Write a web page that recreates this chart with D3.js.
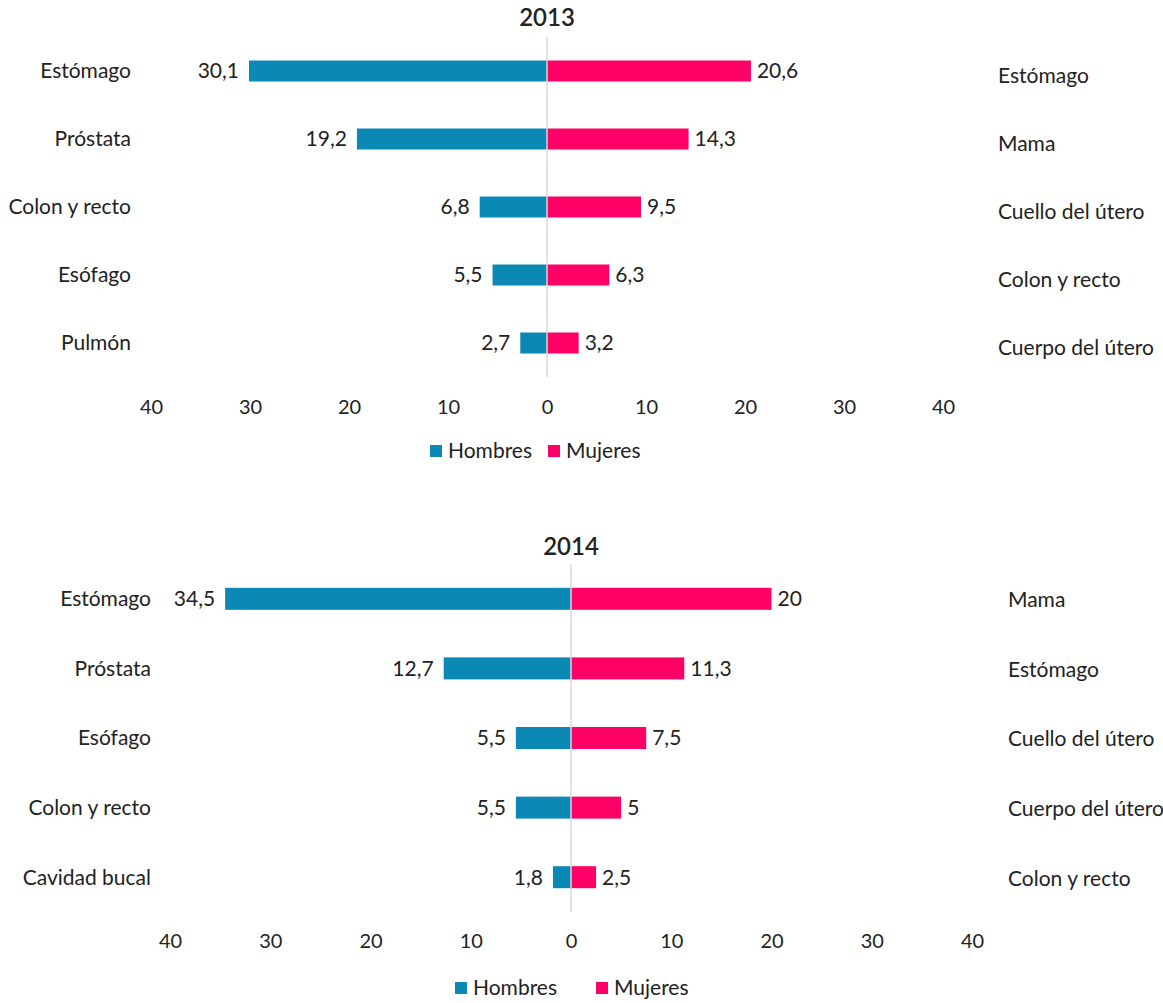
<!DOCTYPE html>
<html lang="es">
  <head>
    <meta charset="UTF-8" />
    <title>Mortalidad por cáncer 2013-2014</title>
    <script src="https://d3js.org/d3.v7.min.js"></script>
    <style>
      body { margin: 0; background: #fff; }
      text { font-family: Lato, "Open Sans", sans-serif; fill: #222; }
    </style>
  </head>
  <body>
    <svg width="1163" height="1003"></svg>
    <script>
      // data
      const menCats2013 = ["Estómago", "Próstata", "Colon y recto", "Esófago", "Pulmón"];
      const men2013 = [30.1, 19.2, 6.8, 5.5, 2.7];
      const womenCats2013 = ["Estómago", "Mama", "Cuello del útero", "Colon y recto", "Cuerpo del útero"];
      const women2013 = [20.6, 14.3, 9.5, 6.3, 3.2];

      const menCats2014 = ["Estómago", "Próstata", "Esófago", "Colon y recto", "Cavidad bucal"];
      const men2014 = [34.5, 12.7, 5.5, 5.5, 1.8];
      const womenCats2014 = ["Mama", "Estómago", "Cuello del útero", "Cuerpo del útero", "Colon y recto"];
      const women2014 = [20, 11.3, 7.5, 5, 2.5];

      const tickValues = [-40, -30, -20, -10, 0, 10, 20, 30, 40];
      const seriesNames = ["Hombres", "Mujeres"];
      const colors = { Hombres: "#0b88b3", Mujeres: "#ff0066" };

      const fmt = (v) => String(v).replace(".", ",");
      const svg = d3.select("svg");
      const fs = "21px";

      function panel(p) {
        const g = svg.append("g");
        const x = d3.scaleLinear().domain([-40, 40]).range([p.x0, p.x1]);
        const y = d3.scaleBand().domain(d3.range(p.men.length)).range([p.top, p.bottom]);
        const bh = p.barH;

        g.append("text")
          .attr("x", x(0)).attr("y", p.titleY)
          .attr("text-anchor", "middle")
          .style("font-size", "24px")
          .style("font-weight", 600)
          .text(p.title);

        // men bars
        g.selectAll(".m").data(p.men).join("rect")
          .attr("x", (d) => x(-d))
          .attr("y", (d, i) => y(i) + y.bandwidth() / 2 - bh / 2)
          .attr("width", (d) => x(0) - x(-d))
          .attr("height", bh)
          .attr("fill", colors.Hombres);

        g.selectAll(".w").data(p.women).join("rect")
          .attr("x", x(0))
          .attr("y", (d, i) => y(i) + y.bandwidth() / 2 - bh / 2)
          .attr("width", (d) => x(d) - x(0))
          .attr("height", bh)
          .attr("fill", colors.Mujeres);

        g.append("line")
          .attr("x1", x(0)).attr("x2", x(0))
          .attr("y1", p.top).attr("y2", p.bottom)
          .attr("stroke", "#d9d9d9").attr("stroke-width", 1.5);

        // value labels
        g.selectAll(".ml").data(p.men).join("text")
          .attr("x", (d) => x(-d) - 10)
          .attr("y", (d, i) => y(i) + y.bandwidth() / 2)
          .attr("dy", "0.35em")
          .attr("text-anchor", "end")
          .style("font-size", fs)
          .text(fmt);

        g.selectAll(".wl").data(p.women).join("text")
          .attr("x", (d) => x(d) + 6)
          .attr("y", (d, i) => y(i) + y.bandwidth() / 2)
          .attr("dy", "0.35em")
          .style("font-size", fs)
          .text(fmt);

        // category labels
        g.selectAll(".mc").data(p.menCats).join("text")
          .attr("x", p.leftLabelX)
          .attr("y", (d, i) => y(i) + y.bandwidth() / 2)
          .attr("dy", "0.35em")
          .attr("text-anchor", "end")
          .style("font-size", fs)
          .text((d) => d);

        g.selectAll(".wc").data(p.womenCats).join("text")
          .attr("x", p.rightLabelX)
          .attr("y", (d, i) => y(i) + y.bandwidth() / 2 + p.rightShift)
          .attr("dy", "0.35em")
          .style("font-size", fs)
          .text((d) => d);

        // axis ticks (no line)
        const ax = g.append("g")
          .attr("transform", "translate(0," + p.axisY + ")")
          .call(d3.axisBottom(x).tickValues(tickValues).tickSize(0).tickFormat((d) => Math.abs(d)));
        ax.select(".domain").remove();
        ax.selectAll("text")
          .attr("dy", "0.35em").attr("y", 0)
          .style("font-size", "20px")
          .style("font-family", "Lato, 'Open Sans', sans-serif")
          .attr("fill", "#222");

        // legend
        const lg = g.append("g").attr("transform", "translate(0," + p.legendY + ")");
        seriesNames.forEach((s, i) => {
          const lx = p.legendX[i];
          lg.append("rect").attr("x", lx).attr("y", -6).attr("width", 12).attr("height", 12).attr("fill", colors[s]);
          lg.append("text").attr("x", lx + 18).attr("y", 0).attr("dy", "0.35em")
            .style("font-size", fs).text(s);
        });
      }

      panel({
        title: "2013", titleY: 26,
        men: men2013, women: women2013, menCats: menCats2013, womenCats: womenCats2013,
        x0: 151, x1: 943, top: 37, bottom: 377, barH: 21,
        leftLabelX: 131, rightLabelX: 998, rightShift: 5,
        axisY: 407, legendY: 451, legendX: [430, 548]
      });

      panel({
        title: "2014", titleY: 555,
        men: men2014, women: women2014, menCats: menCats2014, womenCats: womenCats2014,
        x0: 170, x1: 972, top: 564, bottom: 912, barH: 22,
        leftLabelX: 151, rightLabelX: 1008, rightShift: 1,
        axisY: 941, legendY: 988, legendX: [455, 596]
      });
    </script>
  </body>
</html>
